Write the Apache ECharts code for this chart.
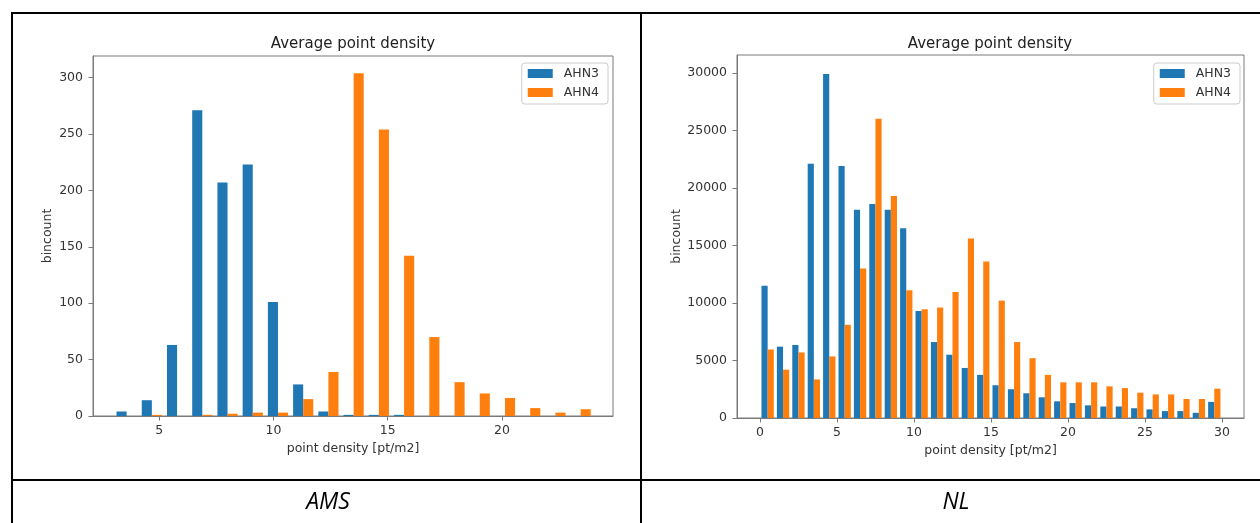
<!DOCTYPE html>
<html>
<head>
<meta charset="utf-8">
<title>Average point density</title>
<script src="https://cdn.jsdelivr.net/npm/echarts@6/dist/echarts.min.js"></script>
<style>
  html, body { margin: 0; padding: 0; background: #fff; }
  #chart { width: 1260px; height: 523px; }
</style>
</head>
<body>
<div id="chart"></div>
<script>
// AMS histogram: 19 bins (left edges + final right edge)
const amsEdges = [3.020, 4.124, 5.228, 6.332, 7.436, 8.540, 9.644, 10.748, 11.852, 12.956,
                  14.060, 15.164, 16.268, 17.372, 18.476, 19.580, 20.684, 21.788, 22.892, 23.996];
const amsAHN3 = [4, 14, 63, 271, 207, 223, 101, 28, 4, 1, 1, 1, 0, 0, 0, 0, 0, 0, 0];
const amsAHN4 = [0, 1, 0, 1, 2, 3, 3, 15, 39, 304, 254, 142, 70, 30, 20, 16, 7, 3, 6];
const amsXTicks = [5, 10, 15, 20];
const amsYTicks = [0, 50, 100, 150, 200, 250, 300];

// NL histogram: 30 bins of 1 pt/m2
const nlEdges = [0, 1, 2, 3, 4, 5, 6, 7, 8, 9, 10, 11, 12, 13, 14, 15,
                 16, 17, 18, 19, 20, 21, 22, 23, 24, 25, 26, 27, 28, 29, 30];
const nlAHN3 = [11500, 6200, 6350, 22100, 29900, 21900, 18100, 18600, 18100, 16500,
                9300, 6600, 5500, 4350, 3750, 2850, 2500, 2150, 1800, 1450,
                1300, 1100, 1000, 1000, 850, 750, 600, 600, 450, 1400];
const nlAHN4 = [5950, 4200, 5700, 3350, 5350, 8100, 13000, 26000, 19300, 11100,
                9450, 9600, 10950, 15600, 13600, 10200, 6600, 5200, 3750, 3100,
                3100, 3100, 2750, 2600, 2200, 2050, 2050, 1650, 1650, 2550];
const nlXTicks = [0, 5, 10, 15, 20, 25, 30];
const nlYTicks = [0, 5000, 10000, 15000, 20000, 25000, 30000];

const seriesNames = ['AHN3', 'AHN4'];
const colors = ['#1f77b4', '#ff7f0e'];
const panelCaptions = ['AMS', 'NL'];

const FONT = 'DejaVu Sans';
const SPINE = '#7a7a7a';
const TEXT = '#333';

// [binLeft, binRight, count] rows for one dataset
function binRows(edges, counts) {
  return counts.map((c, i) => [edges[i], edges[i + 1], c]);
}

// side-by-side histogram bars: each dataset takes 40% of the bin, 10% gap each side
function histRenderer(slot) {
  return function (params, api) {
    const x0 = api.value(0), x1 = api.value(1), v = api.value(2);
    const w = x1 - x0;
    const a = x0 + w * (0.1 + 0.4 * slot);
    const b = a + 0.4 * w;
    const pTop = api.coord([a, v]);
    const pBot = api.coord([b, 0]);
    return {
      type: 'rect',
      shape: { x: pTop[0], y: pTop[1], width: pBot[0] - pTop[0], height: pBot[1] - pTop[1] },
      style: api.style()
    };
  };
}

const plainNumber = v => String(v);

function xAxisFor(gridIndex, min, max, ticks) {
  return {
    type: 'value', gridIndex, min, max,
    name: 'point density [pt/m2]', nameLocation: 'middle', nameGap: 26,
    nameTextStyle: { fontFamily: FONT, fontSize: 12.5, color: TEXT },
    axisLine: { show: true, onZero: false, lineStyle: { color: SPINE, width: 1 } },
    splitLine: { show: false },
    axisTick: { show: true, length: 4.5, inside: false, customValues: ticks,
                lineStyle: { color: SPINE, width: 1 } },
    axisLabel: { customValues: ticks, formatter: plainNumber, margin: 8,
                 fontFamily: FONT, fontSize: 12.5, color: TEXT }
  };
}

function yAxisFor(gridIndex, max, ticks, nameGap) {
  return {
    type: 'value', gridIndex, min: 0, max,
    name: 'bincount', nameLocation: 'middle', nameGap, nameRotate: 90,
    nameTextStyle: { fontFamily: FONT, fontSize: 12.5, color: TEXT },
    axisLine: { show: true, onZero: false, lineStyle: { color: SPINE, width: 1 } },
    splitLine: { show: false },
    axisTick: { show: true, length: 4.5, inside: false, customValues: ticks,
                lineStyle: { color: SPINE, width: 1 } },
    axisLabel: { customValues: ticks, formatter: plainNumber, margin: 10,
                 fontFamily: FONT, fontSize: 12.5, color: TEXT }
  };
}

function histSeries(name, slot, gridIndex, rows) {
  return {
    type: 'custom', name,
    xAxisIndex: gridIndex, yAxisIndex: gridIndex,
    renderItem: histRenderer(slot),
    encode: { x: [0, 1], y: 2 },
    itemStyle: { color: colors[slot] },
    clip: true,
    silent: true,
    data: rows
  };
}

function legendFor(right) {
  return {
    orient: 'vertical', right, top: 63,
    data: seriesNames, icon: 'rect',
    itemWidth: 25, itemHeight: 9, itemGap: 6,
    padding: [4, 9, 5, 6],
    backgroundColor: 'rgba(255,255,255,0.8)',
    borderColor: '#cccccc', borderWidth: 1, borderRadius: 3,
    selectedMode: false,
    textStyle: { fontFamily: FONT, fontSize: 12.5, color: TEXT, padding: [0, 0, 0, 6] }
  };
}

const tableLine = { stroke: '#000', lineWidth: 2 };

const option = {
  animation: false,
  backgroundColor: '#fff',
  title: [
    { text: 'Average point density', left: 353, top: 37, textAlign: 'center', padding: 0,
      textStyle: { fontFamily: FONT, fontSize: 15, fontWeight: 'normal', color: '#222' } },
    { text: 'Average point density', left: 990, top: 37, textAlign: 'center', padding: 0,
      textStyle: { fontFamily: FONT, fontSize: 15, fontWeight: 'normal', color: '#222' } }
  ],
  legend: [legendFor(652), legendFor(20)],
  grid: [
    { left: 93, top: 56, width: 520, height: 360, show: true,
      borderColor: SPINE, borderWidth: 1, backgroundColor: 'transparent' },
    { left: 737, top: 55, width: 507, height: 363, show: true,
      borderColor: SPINE, borderWidth: 1, backgroundColor: 'transparent' }
  ],
  xAxis: [
    xAxisFor(0, 2.1, 24.86, amsXTicks),
    xAxisFor(1, -1.49, 31.43, nlXTicks)
  ],
  yAxis: [
    yAxisFor(0, 319.2, amsYTicks, 39),
    yAxisFor(1, 31550, nlYTicks, 54)
  ],
  series: [
    histSeries(seriesNames[0], 0, 0, binRows(amsEdges, amsAHN3)),
    histSeries(seriesNames[1], 1, 0, binRows(amsEdges, amsAHN4)),
    histSeries(seriesNames[0], 0, 1, binRows(nlEdges, nlAHN3)),
    histSeries(seriesNames[1], 1, 1, binRows(nlEdges, nlAHN4))
  ],
  graphic: [
    // table frame around the two panels
    { type: 'line', shape: { x1: 11, y1: 13, x2: 1260, y2: 13 }, style: tableLine, silent: true },
    { type: 'line', shape: { x1: 12, y1: 12, x2: 12, y2: 523 }, style: tableLine, silent: true },
    { type: 'line', shape: { x1: 641, y1: 12, x2: 641, y2: 523 }, style: tableLine, silent: true },
    { type: 'line', shape: { x1: 11, y1: 480, x2: 1260, y2: 480 }, style: tableLine, silent: true },
    { type: 'text', x: 328, y: 502, silent: true,
      style: { text: panelCaptions[0], fontFamily: 'Open Sans', fontStyle: 'italic', fontSize: 23,
               fill: '#000', textAlign: 'center', textVerticalAlign: 'middle' } },
    { type: 'text', x: 956, y: 502, silent: true,
      style: { text: panelCaptions[1], fontFamily: 'Open Sans', fontStyle: 'italic', fontSize: 23,
               fill: '#000', textAlign: 'center', textVerticalAlign: 'middle' } }
  ]
};

const chart = echarts.init(document.getElementById('chart'), null, { renderer: 'canvas' });
chart.setOption(option);
</script>
</body>
</html>
